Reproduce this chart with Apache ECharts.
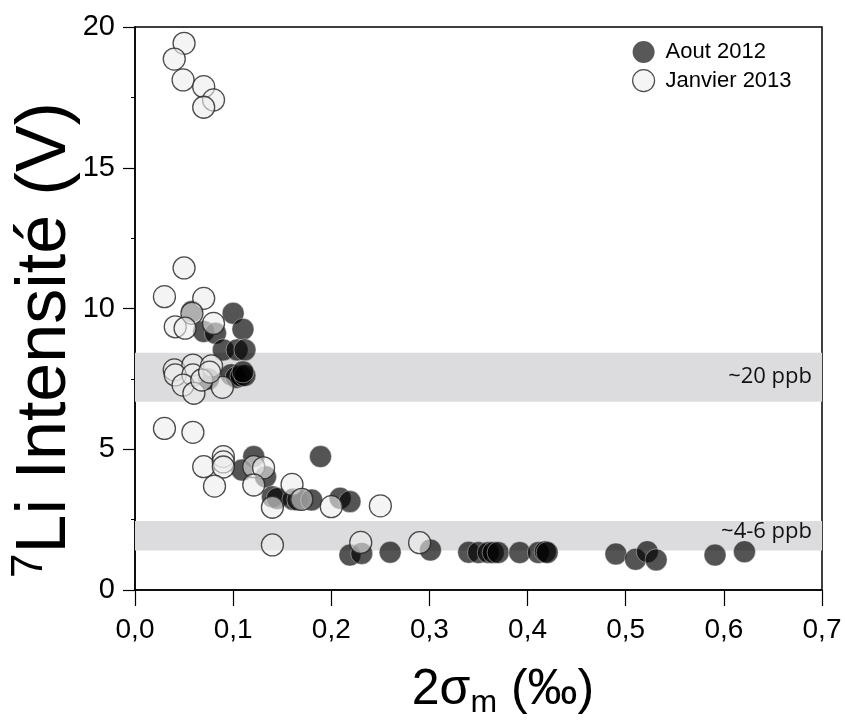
<!DOCTYPE html>
<html>
<head>
<meta charset="utf-8">
<script src="https://cdn.jsdelivr.net/npm/echarts@6/dist/echarts.min.js"></script>
<style>html,body{margin:0;padding:0;background:#fff;}#c{width:845px;height:722px;}</style>
</head>
<body>
<div id="c"></div>
<script>
// Aout 2012 (dark markers)
const aoutX = [0.058, 0.100, 0.110, 0.070, 0.082, 0.090, 0.104, 0.112, 0.098, 0.103, 0.108, 0.112, 0.110, 0.075,
  0.121, 0.109, 0.133, 0.189, 0.140, 0.145, 0.161, 0.166, 0.170, 0.180, 0.209, 0.219,
  0.219, 0.231, 0.260, 0.301, 0.340, 0.350, 0.360, 0.365, 0.370, 0.392, 0.411, 0.418, 0.420,
  0.490, 0.510, 0.522, 0.531, 0.591, 0.621];
const aoutY = [9.89, 9.83, 9.26, 9.18, 9.12, 8.53, 8.53, 8.53, 7.65, 7.55, 7.60, 7.62, 7.75, 7.50,
  4.74, 4.26, 4.02, 4.74, 3.31, 3.25, 3.22, 3.20, 3.22, 3.20, 3.26, 3.14,
  1.24, 1.30, 1.34, 1.42, 1.34, 1.33, 1.33, 1.33, 1.33, 1.33, 1.33, 1.36, 1.33,
  1.28, 1.09, 1.36, 1.07, 1.24, 1.36];
// Janvier 2013 (light markers)
const janvierX = [0.050, 0.040, 0.049, 0.070, 0.080, 0.070, 0.050, 0.030, 0.070, 0.058, 0.041, 0.051, 0.080,
  0.040, 0.059, 0.078, 0.041, 0.059, 0.049, 0.060, 0.089, 0.068, 0.076,
  0.030, 0.059, 0.070, 0.090, 0.090, 0.090, 0.081, 0.121, 0.131, 0.121, 0.140, 0.160, 0.170, 0.200, 0.250,
  0.140, 0.230, 0.290];
const janvierY = [19.42, 18.86, 18.12, 17.88, 17.41, 17.15, 11.44, 10.42, 10.36, 9.83, 9.35, 9.30, 9.47,
  7.82, 7.99, 7.96, 7.64, 7.64, 7.28, 6.99, 7.20, 7.46, 7.74,
  5.74, 5.60, 4.38, 4.74, 4.55, 4.37, 3.69, 4.38, 4.34, 3.73, 2.94, 3.75, 3.22, 2.96, 2.99,
  1.60, 1.69, 1.68];
// concentration bands [low, high] in V and their labels
const bandLabels = ['~20 ppb', '~4-6 ppb'];
const bandRanges = [[6.69, 8.43], [1.40, 2.45]];
const xTickValues = [0, 0.1, 0.2, 0.3, 0.4, 0.5, 0.6, 0.7];
const yTickValues = [0, 5, 10, 15, 20];

const zip = (xs, ys) => xs.map((x, i) => [x, ys[i]]);
const fmt = v => (Math.round(v * 10) / 10).toFixed(1).replace('.', ',');

const chart = echarts.init(document.getElementById('c'), null, {renderer: 'canvas'});
const FONT = '"Liberation Sans", Arial, Helvetica, sans-serif';

chart.setOption({
  animation: false,
  backgroundColor: '#fff',
  grid: {left: 135, right: 23, top: 27, bottom: 132, show: true, borderColor: '#000', borderWidth: 1.5, backgroundColor: 'transparent'},
  xAxis: {
    type: 'value', min: 0, max: 0.7, interval: 0.1,
    axisLine: {lineStyle: {color: '#000', width: 1.5}},
    axisTick: {length: 16, lineStyle: {color: '#000', width: 1.2}},
    splitLine: {show: false},
    axisLabel: {fontFamily: FONT, fontSize: 28, color: '#000', margin: 26, formatter: fmt}
  },
  yAxis: {
    type: 'value', min: 0, max: 20, interval: 5,
    axisLine: {show: true, lineStyle: {color: '#000', width: 1.5}},
    axisTick: {show: true, length: 12, lineStyle: {color: '#000', width: 1.2}},
    minorTick: {show: true, splitNumber: 2, length: 4, lineStyle: {color: '#000', width: 1}},
    splitLine: {show: false},
    axisLabel: {fontFamily: FONT, fontSize: 29, color: '#000', margin: 20}
  },
  legend: {
    orient: 'vertical', left: 627, top: 36, itemWidth: 22, itemHeight: 22, itemGap: 6,
    textStyle: {fontFamily: FONT, fontSize: 22, color: '#000', padding: [0, 0, 0, 6]},
    data: [
      {name: 'Aout 2012', icon: 'circle', itemStyle: {color: '#2e2e2e', borderColor: '#2e2e2e', borderWidth: 0}},
      {name: 'Janvier 2013', icon: 'circle', itemStyle: {color: '#f2f2f2', borderColor: '#222', borderWidth: 1.2}}
    ]
  },
  series: [
    {
      type: 'scatter', name: 'bands', data: [], z: 1, silent: true,
      markArea: {
        silent: true,
        itemStyle: {color: '#dcdcde'},
        label: {show: true, position: 'insideRight', fontFamily: '"Open Sans", "Noto Sans", sans-serif', fontSize: 22, color: '#111', distance: 10},
        data: bandRanges.map((r, i) => [
          {yAxis: r[0], name: bandLabels[i], label: {offset: [0, i === 1 ? -4 : 0]}},
          {yAxis: r[1]}
        ])
      }
    },
    {
      type: 'scatter', name: 'Aout 2012', z: 3,
      symbol: 'circle', symbolSize: 22,
      itemStyle: {color: 'rgba(0,0,0,0.84)', borderColor: 'rgba(255,255,255,0.5)', borderWidth: 1},
      data: zip(aoutX, aoutY)
    },
    {
      type: 'scatter', name: 'Janvier 2013', z: 4,
      symbol: 'circle', symbolSize: 22,
      itemStyle: {color: 'rgba(236,236,236,0.75)', borderColor: '#222', borderWidth: 1.3},
      data: zip(janvierX, janvierY)
    }
  ],
  graphic: [
    {
      type: 'text', x: 46, y: 340, rotation: Math.PI / 2,
      style: {
        text: '{sup|7}{n|Li Intensité (V)}',
        align: 'center', verticalAlign: 'middle',
        rich: {
          sup: {fontFamily: FONT, fontSize: 44, fill: '#000', verticalAlign: 'top', lineHeight: 76, padding: [0, 0, 24, 0]},
          n: {fontFamily: FONT, fontSize: 70, fill: '#000', lineHeight: 76}
        }
      }
    },
    {
      type: 'text', x: 503, y: 690,
      style: {
        text: '{n|2σ}{sub|m}{n| (‰)}',
        align: 'center', verticalAlign: 'middle',
        rich: {
          n: {fontFamily: FONT, fontSize: 50, fill: '#000', lineHeight: 58},
          sub: {fontFamily: FONT, fontSize: 32, fill: '#000', lineHeight: 58, verticalAlign: 'bottom', padding: [15, 0, 0, 0]}
        }
      }
    }
  ]
});
</script>
</body>
</html>
